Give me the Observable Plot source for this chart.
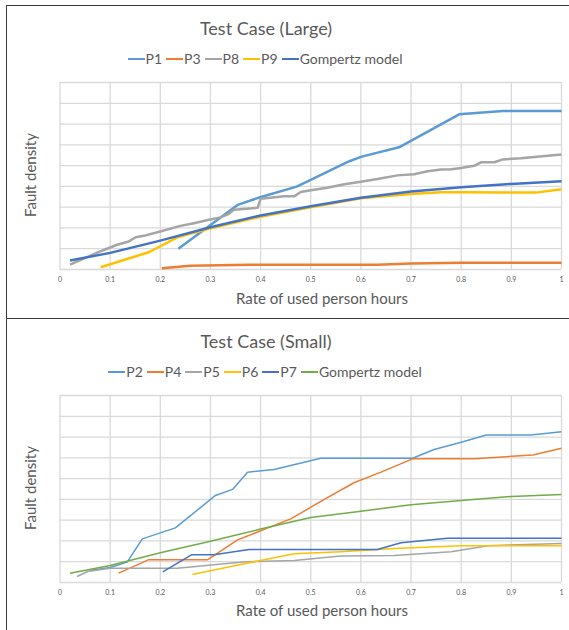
<!DOCTYPE html>
<html>
<head>
<meta charset="utf-8">
<script src="https://cdn.jsdelivr.net/npm/d3@7"></script>
<script src="https://cdn.jsdelivr.net/npm/@observablehq/plot@0.6"></script>
<style>
  html, body { margin: 0; padding: 0; background: #fff; overflow: hidden; }
  #page { position: relative; width: 569px; height: 630px; overflow: hidden; font-family: Lato, "Open Sans", sans-serif; color: #595959; }
  .panel { position: absolute; left: 6px; width: 620px; border: 1.5px solid #3c3c3c; box-sizing: border-box; }
  .title { position: absolute; left: 0; width: 532px; text-align: center; font-size: 18px; line-height: 20px; }
  .legend { position: absolute; left: 0; width: 534px; display: flex; justify-content: center; font-size: 14px; line-height: 16px; }
  .legend .item { display: flex; align-items: center; margin-right: 4px; }
  .legend .sw { display: inline-block; width: 17px; margin-right: 1px; }
  .xlab { position: absolute; left: 0; width: 644px; text-align: center; font-size: 15px; line-height: 16px; }
  .ylab { position: absolute; left: 30px; font-size: 15px; line-height: 16px; transform: translate(-50%, -50%) rotate(-90deg); white-space: nowrap; }
  .chart { position: absolute; left: 0; }
</style>
</head>
<body>
<div id="page"></div>
<script>
// ---------- data: Test Case (Large) ----------
const largeSeries = ["P1", "P3", "P8", "P9", "Gompertz model"];
const largeColors = ["#5B9BD5", "#ED7D31", "#A5A5A5", "#FFC000", "#4472C4"];
const P1 = [[0.236,1.00],[0.354,3.11],[0.399,3.48],[0.472,3.99],[0.577,5.21],[0.600,5.42],[0.676,5.88],[0.796,7.47],[0.883,7.63],[1.000,7.63]];
const P3 = [[0.203,0.06],[0.260,0.18],[0.377,0.23],[0.633,0.23],[0.700,0.29],[0.800,0.32],[1.000,0.32]];
const P8 = [[0.020,0.23],[0.081,0.88],[0.114,1.19],[0.137,1.35],[0.151,1.55],[0.167,1.62],[0.200,1.83],[0.240,2.10],[0.267,2.23],[0.297,2.39],[0.320,2.51],[0.337,2.68],[0.347,2.88],[0.394,2.97],[0.400,3.40],[0.447,3.52],[0.467,3.52],[0.480,3.73],[0.500,3.81],[0.533,3.93],[0.567,4.10],[0.600,4.22],[0.633,4.36],[0.673,4.53],[0.706,4.58],[0.733,4.73],[0.760,4.81],[0.780,4.82],[0.800,4.89],[0.826,4.99],[0.839,5.16],[0.866,5.16],[0.883,5.30],[0.919,5.35],[0.946,5.42],[0.972,5.47],[1.000,5.54]];
const P9 = [[0.081,0.11],[0.177,0.83],[0.234,1.55],[0.300,1.98],[0.400,2.54],[0.500,3.00],[0.600,3.43],[0.706,3.64],[0.760,3.72],[0.800,3.72],[0.949,3.70],[1.000,3.86]];
const gompertzLarge = [[0.020,0.43],[0.100,0.80],[0.200,1.39],[0.300,2.03],[0.400,2.60],[0.500,3.04],[0.600,3.45],[0.700,3.75],[0.800,3.96],[0.900,4.12],[1.000,4.25]];

// ---------- data: Test Case (Small) ----------
const smallSeries = ["P2", "P4", "P5", "P6", "P7", "Gompertz model"];
const smallColors = ["#5B9BD5", "#ED7D31", "#A5A5A5", "#FFC000", "#4472C4", "#70AD47"];
const P2 = [[0.060,0.58],[0.100,0.72],[0.134,0.98],[0.164,2.10],[0.230,2.63],[0.310,4.19],[0.344,4.48],[0.374,5.31],[0.427,5.44],[0.460,5.63],[0.520,5.98],[0.703,5.98],[0.746,6.40],[0.800,6.75],[0.850,7.10],[0.939,7.10],[1.000,7.25]];
const P4 = [[0.117,0.45],[0.176,1.09],[0.294,1.09],[0.354,2.05],[0.460,3.06],[0.520,3.90],[0.586,4.80],[0.640,5.31],[0.703,5.95],[0.826,5.95],[0.943,6.14],[1.000,6.46]];
const P5 = [[0.034,0.29],[0.055,0.53],[0.100,0.69],[0.234,0.69],[0.370,1.00],[0.467,1.06],[0.560,1.27],[0.666,1.30],[0.780,1.48],[0.853,1.77],[1.000,1.88]];
const P6 = [[0.264,0.38],[0.360,0.87],[0.467,1.38],[0.560,1.48],[0.666,1.64],[0.800,1.77],[1.000,1.77]];
const P7 = [[0.205,0.51],[0.262,1.33],[0.307,1.33],[0.377,1.59],[0.633,1.59],[0.680,1.91],[0.773,2.13],[1.000,2.13]];
const gompertzSmall = [[0.020,0.45],[0.100,0.82],[0.200,1.43],[0.300,1.99],[0.400,2.57],[0.500,3.13],[0.600,3.43],[0.700,3.74],[0.800,3.95],[0.900,4.14],[1.000,4.23]];

// ---------- axis ticks ----------
const xTicks = [0, 0.1, 0.2, 0.3, 0.4, 0.5, 0.6, 0.7, 0.8, 0.9, 1];
const xTickLabels = ["0", "0.1", "0.2", "0.3", "0.4", "0.5", "0.6", "0.7", "0.8", "0.9", "1"];
const yGrid = [0, 1, 2, 3, 4, 5, 6, 7, 8, 9];
const xTitle = "Rate of used person hours";
const yTitle = "Fault density";

const page = document.getElementById("page");

function el(tag, cls, style, text) {
  const e = document.createElement(tag);
  if (cls) e.className = cls;
  Object.assign(e.style, style || {});
  if (text != null) e.textContent = text;
  page.appendChild(e);
  return e;
}

function legend(top, names, colors, sw) {
  const lg = el("div", "legend", {top: top + "px"});
  names.forEach((n, i) => {
    const it = document.createElement("span");
    it.className = "item";
    const s = document.createElement("span");
    s.className = "sw";
    s.style.height = sw + "px";
    s.style.background = colors[i];
    it.appendChild(s);
    const t = document.createElement("span");
    t.textContent = n;
    it.appendChild(t);
    lg.appendChild(it);
  });
}

function chart(top, names, colors, seriesData, strokeWidth) {
  const rows = [];
  seriesData.forEach((arr, i) => arr.forEach(([x, y]) => rows.push({series: names[i], x, y})));
  const svg = Plot.plot({
    width: 569,
    height: 240,
    marginLeft: 59.5,
    marginRight: 8,
    marginTop: 12,
    marginBottom: 41,
    style: {fontFamily: "Lato, sans-serif", color: "#595959", background: "transparent"},
    x: {domain: [0, 1]},
    y: {domain: [0, 9], axis: null},
    color: {domain: names, range: colors},
    marks: [
      Plot.gridY(yGrid, {stroke: "#d9d9d9", strokeOpacity: 1, strokeWidth: 1.3}),
      Plot.gridX(xTicks, {stroke: "#d9d9d9", strokeOpacity: 1, strokeWidth: 1.3}),
      Plot.axisX({ticks: xTicks, tickSize: 0, tickPadding: 8, fontSize: 7, fill: "#595959",
                  tickFormat: d => xTickLabels[xTicks.indexOf(d)], label: null}),
      Plot.line(rows, {x: "x", y: "y", z: "series", stroke: "series", strokeWidth,
                       strokeLinejoin: "round", strokeLinecap: "butt"})
    ]
  });
  svg.classList.add("chart");
  svg.style.top = top + "px";
  page.appendChild(svg);
}

// panels
el("div", "panel", {top: "5px", height: "314px"});
el("div", "panel", {top: "317.5px", height: "330px"});

// Large
el("div", "title", {top: "18px"}, "Test Case (Large)");
legend(51, largeSeries, largeColors, 2.5);
chart(70, largeSeries, largeColors, [P1, P3, P8, P9, gompertzLarge], 2.5);
el("div", "xlab", {top: "290px"}, xTitle);
el("div", "ylab", {top: "175px"}, yTitle);

// Small
el("div", "title", {top: "331px"}, "Test Case (Small)");
legend(364, smallSeries, smallColors, 1.5);
chart(383, smallSeries, smallColors, [P2, P4, P5, P6, P7, gompertzSmall], 1.5);
el("div", "xlab", {top: "602px"}, xTitle);
el("div", "ylab", {top: "488px"}, yTitle);
</script>
</body>
</html>
